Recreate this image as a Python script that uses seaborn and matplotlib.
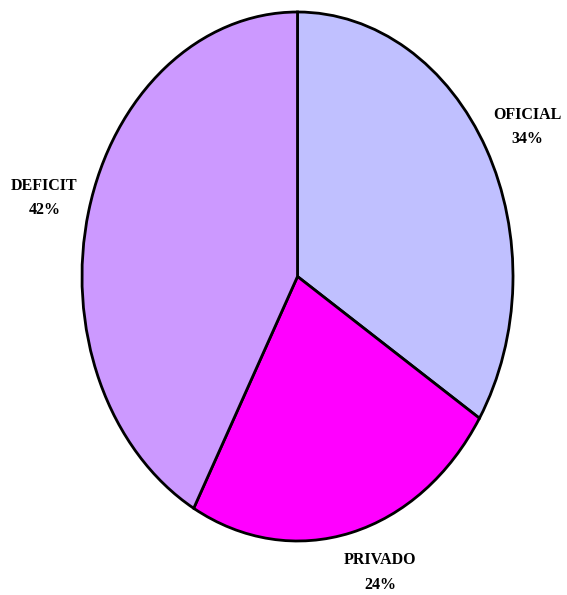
import matplotlib.pyplot as plt
import seaborn as sns

# Data
categories = ["OFICIAL", "PRIVADO", "DEFICIT"]
shares = [34, 24, 42]
colors = ["#C0C0FF", "#FF00FF", "#CC99FF"]

sns.set_theme(style="white")
plt.rcParams["font.family"] = ["Liberation Serif", "DejaVu Serif"]

fig = plt.figure(figsize=(5.67, 5.95), dpi=100)
# axes stretched so the pie becomes the tall ellipse of the original
ax = fig.add_axes([82 / 567, 54 / 595, 431 / 567, 529 / 595])

wedges, _ = ax.pie(shares, colors=sns.color_palette(colors), startangle=90,
                   counterclock=False,
                   wedgeprops=dict(edgecolor="black", linewidth=2))
ax.set_aspect("auto")
ax.set_xlim(-1, 1)
ax.set_ylim(-1, 1)

label_pos = {"OFICIAL": (1.067, 0.566), "PRIVADO": (0.384, -1.119),
             "DEFICIT": (-1.174, 0.297)}
for name, val in zip(categories, shares):
    x, y = label_pos[name]
    ax.text(x, y, f"{name}\n{val}%", ha="center", va="center",
            fontsize=11.5, fontweight="bold", linespacing=1.7,
            color="black", clip_on=False)

plt.savefig("out.png", dpi=100)
